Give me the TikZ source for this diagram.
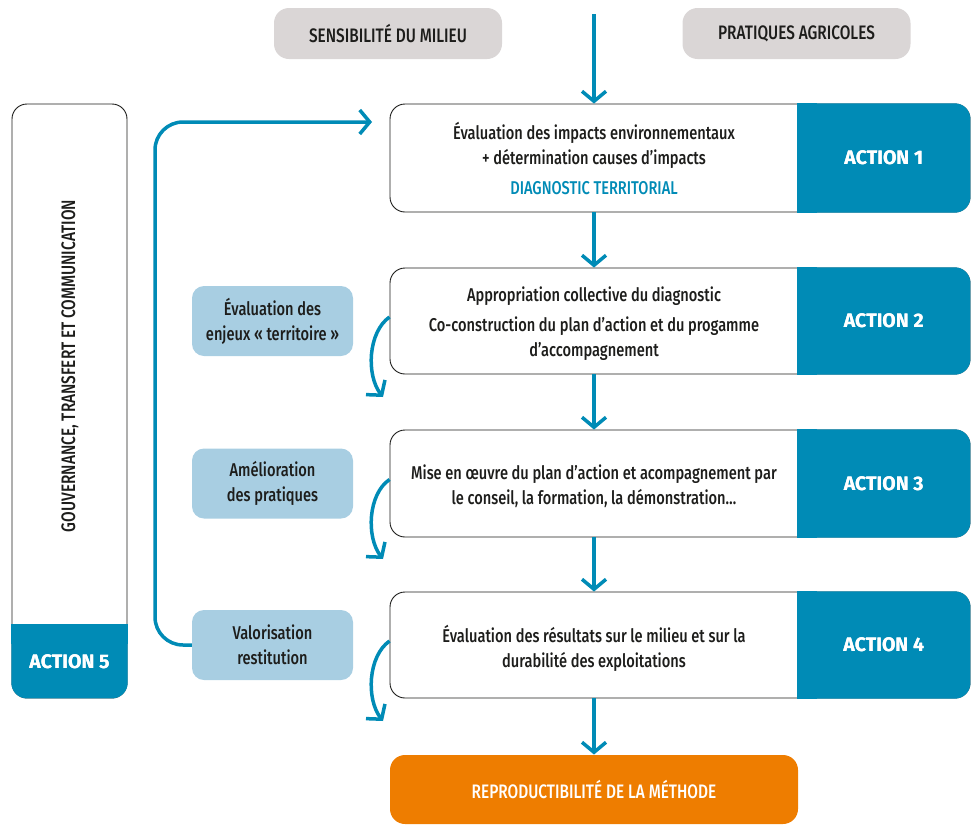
\documentclass[tikz,border=0pt]{standalone}
\usepackage{fontspec}
\setmainfont{Fira Sans}[FakeStretch=0.79, UprightFont=* Medium, BoldFont=* Bold]
\newfontfamily\actfont{Fira Sans}
\usetikzlibrary{arrows.meta}

\definecolor{ink}{RGB}{29,29,27}
\definecolor{actblue}{RGB}{0,139,182}
\definecolor{paleblue}{RGB}{168,206,226}
\definecolor{greybox}{RGB}{218,214,214}
\definecolor{outorange}{RGB}{238,125,0}

\begin{document}
\begin{tikzpicture}[x=1pt,y=1pt,yscale=-1,
  every node/.style={font=\fontsize{18.5}{25}\selectfont, text=ink, align=center},
  caps/.style={font=\fontsize{19.5}{25}\selectfont},
  pane/.style={draw=ink, line width=0.9, rounded corners=15, fill=white},
  tag/.style={fill=actblue, draw=actblue, line width=1.4, rounded corners=15, text=white,
    font=\actfont\bfseries\fontsize{19.5}{22}\selectfont},
  topic/.style={fill=paleblue, rounded corners=12, minimum width=161, minimum height=70},
  source/.style={fill=greybox, rounded corners=15, minimum width=228, minimum height=51, caps},
  flow/.style={draw=actblue, line width=3.5, -{Straight Barb[length=10,width=24]}}
]
%set diagram size to 978 x 825
\useasboundingbox (0,0) rectangle (978,825);

%Shape: Inputs
\node[source] (sens) at (388,33.5) {SENSIBILITÉ DU MILIEU};
\node[source] (prat) at (796.5,33.5) {PRATIQUES AGRICOLES};
\coordinate (entry) at (594,14);

%Shape: Action rows
\node[pane, minimum width=580, minimum height=108] (s1) at (680,158) {};
\node[pane, minimum width=580, minimum height=106] (s2) at (680,321) {};
\node[pane, minimum width=580, minimum height=107] (s3) at (680,483.5) {};
\node[pane, minimum width=580, minimum height=106] (s4) at (680,645) {};
\foreach \i/\h in {1/108,2/106,3/107,4/106} {
  \node[tag, minimum width=172, minimum height=\h] (a\i) at (s\i.east) [anchor=east] {ACTION \i};
  \fill[actblue] ([yshift=-0.7]a\i.north west) rectangle ([xshift=20,yshift=0.7]a\i.south west);
  \node[tag, fill=none, draw=none] at (a\i) {ACTION \i};
}

% Text Node
\node (t1) at (594,158) {Évaluation des impacts environnementaux\\+ détermination causes d’impacts\\[5pt]{\color{actblue}DIAGNOSTIC TERRITORIAL}};
% Text Node
\node (t2) at (594,324) {Appropriation collective du diagnostic\\[5pt]Co-construction du plan d’action et du progamme\\d’accompagnement};
% Text Node
\node (t3) at (594,486) {Mise en œuvre du plan d’action et acompagnement par\\le conseil, la formation, la démonstration…};
% Text Node
\node (t4) at (594,648) {Évaluation des résultats sur le milieu et sur la\\durabilité des exploitations};

%Shape: Output
\node[pane, caps, draw=none, fill=outorange, text=white, minimum width=408, minimum height=69] (out) at (594,789.5) {REPRODUCTIBILITÉ DE LA MÉTHODE};

%Shape: Governance column
\node[pane, minimum width=115, minimum height=594] (gov) at (69.5,401) {};
\node[tag, minimum width=115, minimum height=73, anchor=south] (a5) at (gov.south) {ACTION 5};
\fill[actblue] ([xshift=-0.7]a5.north west) rectangle ([xshift=0.7,yshift=20]a5.north east);
\node[tag, fill=none, draw=none] at (a5) {ACTION 5};
\node[caps, rotate=90] (govtxt) at (70,366) {GOUVERNANCE, TRANSFERT ET COMMUNICATION};

%Shape: Steps
\node[topic] (v1) at (272.5,321) {Évaluation des\\enjeux « territoire »};
\node[topic] (v2) at (272.5,483.5) {Amélioration\\des pratiques};
\node[topic] (v3) at (272.5,645) {Valorisation\\restitution};

%Straight Lines: main flow
\draw[flow] (entry) -- (entry |- s1.north);
\draw[flow] (t1 |- s1.south) -- (t1 |- s2.north);
\draw[flow] (t1 |- s2.south) -- (t1 |- s3.north);
\draw[flow] (t1 |- s3.south) -- (t1 |- s4.north);
\draw[flow] (t1 |- s4.south) -- (out.north);

%Curve Lines: side arrows
\coordinate (c2) at (383,397);
\coordinate (c3) at (383,559);
\coordinate (c4) at (383,721);
\draw[flow] ([yshift=-4]s2.west) .. controls (368,332) and (366,375) .. (c2);
\draw[flow] ([yshift=-4]s3.west) .. controls (368,494) and (366,537) .. (c3);
\draw[flow] ([yshift=-4]s4.west) .. controls (368,656) and (366,699) .. (c4);

%Straight Lines: return loop
\coordinate (ret) at (372,122);
\draw[flow, rounded corners=28] (v3.west) -- (155,645) -- (155,122) -- (ret);

\end{tikzpicture}
\end{document}
